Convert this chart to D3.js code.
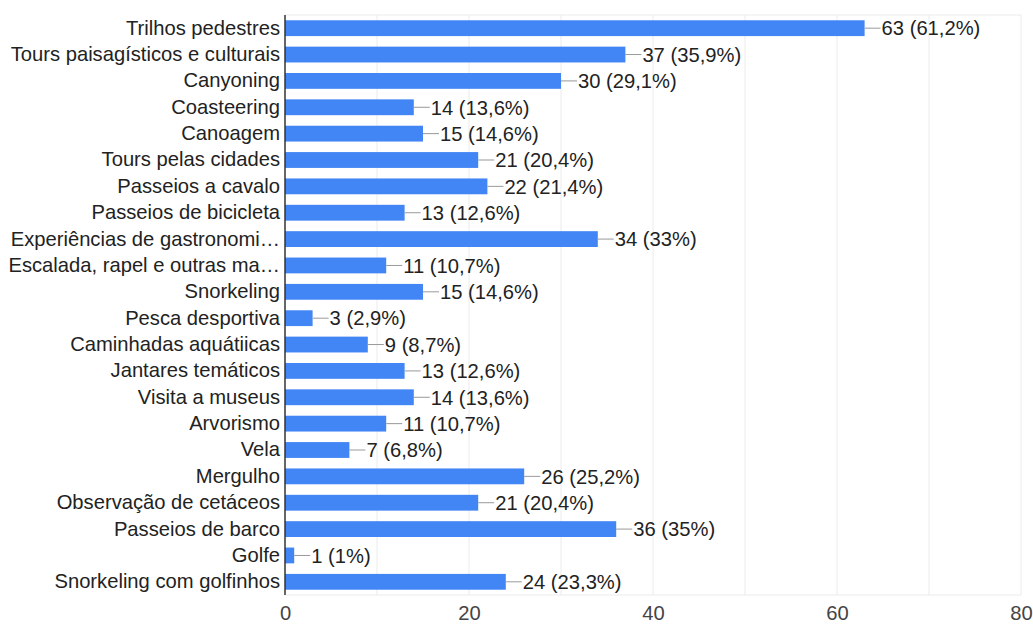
<!DOCTYPE html>
<html>
<head>
<meta charset="utf-8">
<script src="https://cdn.jsdelivr.net/npm/d3@7"></script>
<style>
  html, body { margin: 0; padding: 0; background: #fff; }
  svg { display: block; font-family: "Liberation Sans", Arial, sans-serif; }
</style>
</head>
<body>
<svg id="chart" width="1033" height="625"></svg>
<script>
// Activity names (as displayed, long ones shortened with an ellipsis)
const categories = [
  "Trilhos pedestres",
  "Tours paisagísticos e culturais",
  "Canyoning",
  "Coasteering",
  "Canoagem",
  "Tours pelas cidades",
  "Passeios a cavalo",
  "Passeios de bicicleta",
  "Experiências de gastronomi…",
  "Escalada, rapel e outras ma…",
  "Snorkeling",
  "Pesca desportiva",
  "Caminhadas aquátiicas",
  "Jantares temáticos",
  "Visita a museus",
  "Arvorismo",
  "Vela",
  "Mergulho",
  "Observação de cetáceos",
  "Passeios de barco",
  "Golfe",
  "Snorkeling com golfinhos"
];
// Number of responses per activity
const counts = [63, 37, 30, 14, 15, 21, 22, 13, 34, 11, 15, 3, 9, 13, 14, 11, 7, 26, 21, 36, 1, 24];
// Share of respondents, as printed
const percents = ["61,2%", "35,9%", "29,1%", "13,6%", "14,6%", "20,4%", "21,4%", "12,6%", "33%", "10,7%",
  "14,6%", "2,9%", "8,7%", "12,6%", "13,6%", "10,7%", "6,8%", "25,2%", "20,4%", "35%", "1%", "23,3%"];
const gridValues = [10, 20, 30, 40, 50, 60, 70, 80];
const tickValues = [0, 20, 40, 60, 80];

const rows = categories.map((c, i) => ({ name: c, value: counts[i], pct: percents[i] }));

const svg = d3.select("#chart");
const plotLeft = 285, plotRight = 1021, plotTop = 15, plotBottom = 595;
const fontSize = 20.2;

const x = d3.scaleLinear().domain([0, 80]).range([plotLeft, plotRight]);
const y = d3.scaleBand().domain(categories).range([plotTop, plotBottom]).paddingInner(0.4).paddingOuter(0.2);

// vertical gridlines
svg.append("g").selectAll("line").data(gridValues).join("line")
  .attr("x1", d => x(d)).attr("x2", d => x(d))
  .attr("y1", plotTop).attr("y2", plotBottom)
  .attr("stroke", "#ebebeb").attr("stroke-width", 1);
// top and bottom frame lines of the plot area
svg.append("line").attr("x1", plotLeft).attr("x2", plotRight).attr("y1", plotTop).attr("y2", plotTop)
  .attr("stroke", "#ebebeb");
svg.append("line").attr("x1", plotLeft).attr("x2", plotRight).attr("y1", plotBottom).attr("y2", plotBottom)
  .attr("stroke", "#ebebeb");

// bars
svg.append("g").selectAll("rect").data(rows).join("rect")
  .attr("x", x(0))
  .attr("y", d => y(d.name))
  .attr("width", d => x(d.value) - x(0))
  .attr("height", y.bandwidth())
  .attr("fill", "#4285f4");

// leader lines and value labels
const lead = 16;
const lbl = svg.append("g").selectAll("g").data(rows).join("g");
lbl.append("line")
  .attr("x1", d => x(d.value)).attr("x2", d => x(d.value) + lead)
  .attr("y1", d => y(d.name) + y.bandwidth() / 2)
  .attr("y2", d => y(d.name) + y.bandwidth() / 2)
  .attr("stroke", "#999").attr("stroke-width", 1);
lbl.append("text")
  .attr("x", d => x(d.value) + lead + 1)
  .attr("y", d => y(d.name) + y.bandwidth() / 2)
  .attr("dy", "0.36em")
  .attr("font-size", fontSize)
  .attr("fill", "#222")
  .text(d => `${d.value} (${d.pct})`);

// category axis
const yAxis = d3.axisLeft(y).tickSize(0).tickPadding(5);
const gy = svg.append("g").attr("transform", `translate(${plotLeft},0)`).call(yAxis);
gy.select(".domain").remove();
gy.selectAll("text").attr("font-size", fontSize).attr("fill", "#222")
  .attr("font-family", "\"Liberation Sans\", Arial, sans-serif");
svg.append("line").attr("x1", plotLeft).attr("x2", plotLeft).attr("y1", plotTop).attr("y2", plotBottom)
  .attr("stroke", "#333").attr("stroke-width", 1.5);

// value axis
const xAxis = d3.axisBottom(x).tickValues(tickValues).tickSize(0).tickPadding(11);
const gx = svg.append("g").attr("transform", `translate(0,${plotBottom})`).call(xAxis);
gx.select(".domain").remove();
gx.selectAll("text").attr("font-size", fontSize).attr("fill", "#444")
  .attr("font-family", "\"Liberation Sans\", Arial, sans-serif");
</script>
</body>
</html>
